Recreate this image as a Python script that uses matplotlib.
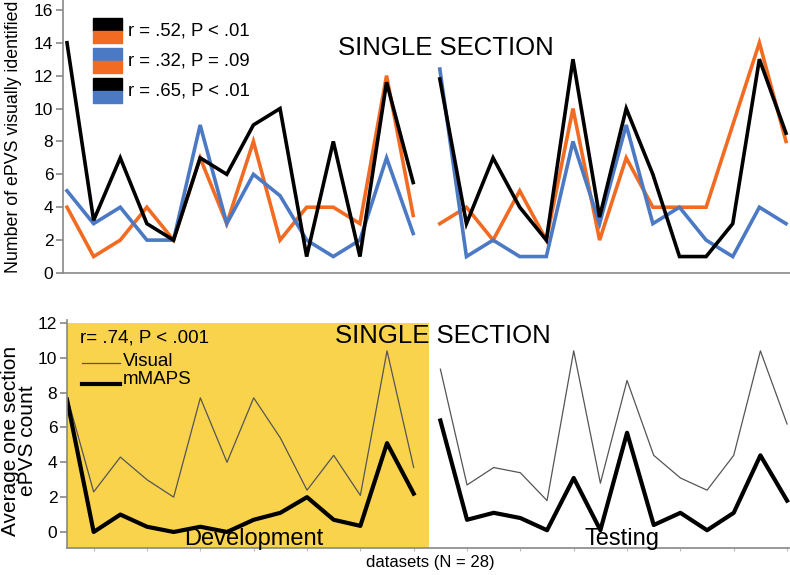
import matplotlib.pyplot as plt
from matplotlib.patches import Rectangle
import numpy as np

plt.rcParams['font.family'] = ['Liberation Sans', 'DejaVu Sans']

# datasets 0-13 development, 14-27 testing
idx = np.arange(28)

# top panel: ePVS counts per rater
black = [14, 3.2, 7, 3, 2, 7, 6, 9, 10, 1, 8, 1, 11.6, 5.5,
         11.8, 3, 7, 4, 2, 13, 3.4, 10, 6, 1, 1, 3, 13, 8.5]
orange = [4, 1, 2, 4, 2, 7, 3, 8, 2, 4, 4, 3, 12, 3.5,
          3, 4, 2, 5, 2, 10, 2, 7, 4, 4, 4, 9, 14, 8]
blue = [5, 3, 4, 2, 2, 9, 3, 6, 4.7, 2, 1, 2, 7, 2.4,
        12.4, 1, 2, 1, 1, 8, 3, 9, 3, 4, 2, 1, 4, 3]

# bottom panel: average one section counts
visual = [7.8, 2.3, 4.3, 3.0, 2.0, 7.7, 4.0, 7.7, 5.4, 2.4, 4.4, 2.1, 10.4, 3.7,
          9.35, 2.7, 3.7, 3.4, 1.8, 10.4, 2.8, 8.7, 4.4, 3.1, 2.4, 4.4, 10.4, 6.2]
mmaps = [7.6, 0.0, 1.0, 0.3, 0.0, 0.3, 0.0, 0.7, 1.1, 2.0, 0.7, 0.35, 5.1, 2.2,
         6.4, 0.7, 1.1, 0.8, 0.1, 3.1, 0.1, 5.7, 0.4, 1.1, 0.1, 1.1, 4.4, 1.8]

legend_top = ["r = .52, P < .01", "r = .32, P = .09", "r = .65, P < .01"]

c_black = '#000000'
c_orange = '#F26B22'
c_blue = '#4B79C4'
c_yellow = '#F9D34C'
c_spine = '#888888'

fig = plt.figure(figsize=(7.9, 5.75), dpi=100)

# ---------- top panel ----------
ax1 = fig.add_axes([63/790, (575-273)/575, 727/790, 273/575])
for seg in (slice(0, 14), slice(14, 28)):
    x = idx[seg]
    ax1.plot(x, np.array(orange)[seg], c=c_orange, lw=2.6, solid_joinstyle='miter')
    ax1.plot(x, np.array(blue)[seg], c=c_blue, lw=2.6, solid_joinstyle='miter')
    ax1.plot(x, np.array(black)[seg], c=c_black, lw=2.6, solid_joinstyle='miter')
ax1.set_xlim(-0.15, 27.15)
ax1.set_ylim(0, 16.6)
ax1.set_yticks(range(0, 17, 2))
ax1.set_xticks([])
for s in ('top', 'right'):
    ax1.spines[s].set_visible(False)
for s in ('left', 'bottom'):
    ax1.spines[s].set_color(c_spine)
    ax1.spines[s].set_linewidth(1.2)
ax1.tick_params(axis='y', colors=c_spine, labelcolor='black', labelsize=12.5,
                length=5, width=1.2, pad=2)
ax1.set_ylabel("Number of ePVS visually identified", fontsize=12.8)
ax1.yaxis.set_label_coords(-0.057, 0.5)
ax1.text(0.527, 0.825, "SINGLE SECTION", transform=ax1.transAxes, fontsize=18.5,
         ha='center', va='center')

# colour-pair legend boxes (figure pixel coords)
pairs = [(c_black, c_orange), (c_blue, c_orange), (c_black, c_blue)]
tops = [18, 48, 78]
for (ctop, cbot), t, lab in zip(pairs, tops, legend_top):
    fig.patches.append(Rectangle((93/790, (575-t-12.5)/575), 29/790, 12.5/575,
                                 transform=fig.transFigure, color=ctop))
    fig.patches.append(Rectangle((93/790, (575-t-25)/575), 29/790, 12.5/575,
                                 transform=fig.transFigure, color=cbot))
    fig.text(128/790, (575-t-12.5)/575, lab, fontsize=13.3, va='center', ha='left')

# ---------- bottom panel ----------
ax2 = fig.add_axes([67/790, (575-548)/575, 723/790, 228/575])
ax2.add_patch(Rectangle((0, -0.92), 13.57, 12.92, color=c_yellow, zorder=0, lw=0))
for seg in (slice(0, 14), slice(14, 28)):
    x = idx[seg]
    ax2.plot(x, np.array(visual)[seg], c='#555555', lw=0.9)
    ax2.plot(x, np.array(mmaps)[seg], c='black', lw=3.0)
ax2.set_xlim(0, 27.11)
ax2.set_ylim(-0.92, 12.17)
ax2.set_yticks(range(0, 13, 2))
ax2.set_xticks(range(1, 28, 2))
ax2.set_xticklabels([])
for s in ('top', 'right'):
    ax2.spines[s].set_visible(False)
for s in ('left', 'bottom'):
    ax2.spines[s].set_color(c_spine)
    ax2.spines[s].set_linewidth(1.2)
ax2.tick_params(axis='y', colors=c_spine, labelcolor='black', labelsize=12.5,
                length=5, width=1.2, pad=2)
ax2.tick_params(axis='x', colors='#bbbbbb', length=2, width=0.8)
ax2.set_ylabel("Average one section\nePVS count", fontsize=15, linespacing=0.88)
ax2.yaxis.set_label_coords(-0.041, 0.47)

ax2.text(13/723, 1 - 18/228, "r= .74, P < .001", transform=ax2.transAxes,
         fontsize=13.5, va='center')
ax2.text(0.52, 1 - 16/228, "SINGLE SECTION", transform=ax2.transAxes,
         fontsize=18.5, va='center', ha='center')
ax2.plot([15/723, 53/723], [1 - 43/228] * 2, transform=ax2.transAxes,
         c='#555555', lw=0.9)
ax2.plot([15/723, 53/723], [1 - 64/228] * 2, transform=ax2.transAxes,
         c='black', lw=3.0)
ax2.text(56/723, 1 - 41/228, "Visual", transform=ax2.transAxes, fontsize=13.5,
         va='center')
ax2.text(56/723, 1 - 60/228, "mMAPS", transform=ax2.transAxes, fontsize=13.5,
         va='center')
ax2.text(7.0, -0.4, "Development", fontsize=17, ha='center', va='center')
ax2.text(20.8, -0.4, "Testing", fontsize=17, ha='center', va='center')

fig.text(430/790, (575-563)/575, "datasets (N = 28)", fontsize=12,
         ha='center', va='center')

fig.savefig("out.png", dpi=100)
